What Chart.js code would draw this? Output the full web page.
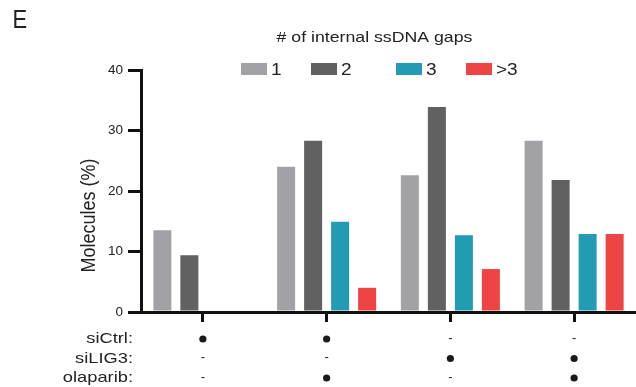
<!DOCTYPE html>
<html><head><meta charset="utf-8">
<script src="https://cdn.jsdelivr.net/npm/chart.js@4"></script>
<style>html,body{margin:0;padding:0;background:#fff;overflow:hidden;}</style>
</head><body>
<canvas id="c" width="636" height="387"></canvas>
<script>
// ---- data ----
const categories = ['siCtrl', 'siCtrl + olaparib', 'siLIG3', 'siLIG3 + olaparib'];
const seriesLabels = ['1', '2', '3', '>3'];
const gaps1 = [13.5, 24.0, 22.6, 28.3];
const gaps2 = [9.4, 28.3, 33.9, 21.8];
const gaps3 = [0, 14.9, 12.7, 12.9];
const gapsMore = [0, 4.0, 7.1, 12.9];
const yTicks = [0, 10, 20, 30, 40];
const rowNames = ['siCtrl:', 'siLIG3:', 'olaparib:'];
const siCtrlRow = [true, true, false, false];
const siLIG3Row = [false, false, true, true];
const olaparibRow = [false, true, false, true];

// ---- styles / layout ----
const colors = ['#A2A2A6', '#616161', '#229BB3', '#EF4444'];
const FONT = '"Liberation Sans", Arial, Helvetica, sans-serif';
const TXT = '#222222';
const LEGEND_X = [241, 311, 396, 466];

function sText(ctx, txt, x, y, size, align, sx) {
  ctx.save();
  ctx.font = size + 'px ' + FONT;
  ctx.textAlign = align;
  ctx.textBaseline = 'middle';
  ctx.fillStyle = TXT;
  ctx.translate(x, y);
  ctx.scale(sx, 1);
  ctx.fillText(txt, 0, 0);
  ctx.restore();
}

const decor = {
  id: 'decor',
  afterDraw(chart) {
    const ctx = chart.ctx;
    const xs = chart.scales.x;
    // panel letter
    sText(ctx, 'E', 12.5, 21.5, 25, 'left', 0.88);
    // title
    sText(ctx, '# of internal ssDNA gaps', 374.5, 38, 15, 'center', 1.18);
    // legend
    seriesLabels.forEach((lab, i) => {
      ctx.fillStyle = colors[i];
      ctx.fillRect(LEGEND_X[i], 63, 26, 12);
      sText(ctx, lab, LEGEND_X[i] + 30, 70.5, 17, 'left', 1.12);
    });
    // y title
    ctx.save();
    ctx.translate(95, 215.5);
    ctx.rotate(-Math.PI / 2);
    ctx.scale(1, 1.1);
    ctx.font = '18px ' + FONT;
    ctx.fillStyle = TXT;
    ctx.textAlign = 'center';
    ctx.textBaseline = 'alphabetic';
    ctx.fillText('Molecules (%)', 0, 0);
    ctx.restore();
    // treatment table
    const rows = [siCtrlRow, siLIG3Row, olaparibRow];
    const rowY = [339, 358.5, 378];
    rows.forEach((row, r) => {
      sText(ctx, rowNames[r], 133, rowY[r], 15, 'right', 1.22);
      row.forEach((on, i) => {
        const x = xs.getPixelForValue(i);
        if (on) {
          ctx.beginPath();
          ctx.fillStyle = '#1a1a1a';
          ctx.arc(x, rowY[r], 3.6, 0, Math.PI * 2);
          ctx.fill();
        } else {
          sText(ctx, '-', x, rowY[r] - 1, 13, 'center', 1);
        }
      });
    });
  }
};

new Chart(document.getElementById('c'), {
  type: 'bar',
  data: {
    labels: categories,
    datasets: [gaps1, gaps2, gaps3, gapsMore].map((d, i) => ({
      label: seriesLabels[i],
      data: d,
      backgroundColor: colors[i],
      borderWidth: 0,
      barPercentage: 0.667,
      categoryPercentage: 0.873
    }))
  },
  options: {
    responsive: false,
    devicePixelRatio: 1,
    animation: false,
    layout: { padding: { top: 70, right: 0, bottom: 0, left: 0 } },
    plugins: { legend: { display: false }, title: { display: false }, tooltip: { enabled: false } },
    scales: {
      x: {
        offset: true,
        grid: { display: true, drawOnChartArea: false, drawTicks: true, tickLength: 10, lineWidth: 3, color: '#111', offset: false },
        border: { display: true, width: 3, color: '#111' },
        ticks: { display: true, callback: () => '', padding: 0 },
        afterFit(s) { s.height = 75; }
      },
      y: {
        min: 0, max: 40,
        afterBuildTicks(s) { s.ticks = yTicks.map(v => ({ value: v })); },
        grid: { display: true, drawOnChartArea: false, drawTicks: true, tickLength: 13, lineWidth: 3, color: '#111' },
        border: { display: true, width: 3, color: '#111' },
        ticks: { font: { size: 13.5, family: FONT }, color: TXT, padding: 5 },
        afterFit(s) { s.width = 141; }
      }
    }
  },
  plugins: [decor]
});
</script>
</body></html>
